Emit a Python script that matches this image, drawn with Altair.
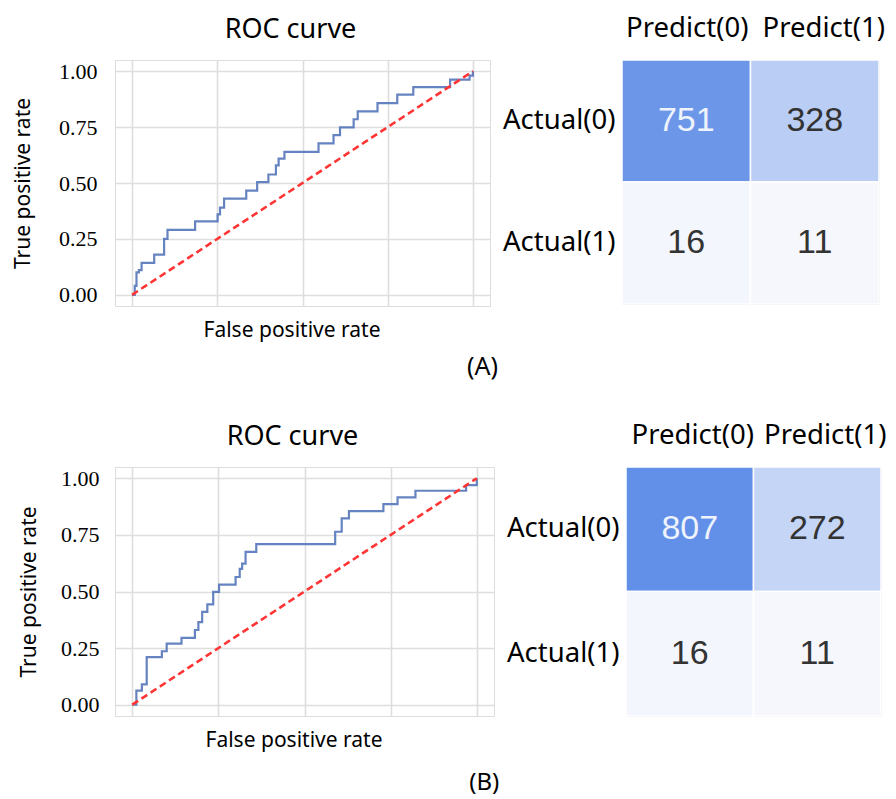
import altair as alt
import pandas as pd

# ---------------- data ----------------
# ROC curve (A): false positive rate / true positive rate at each step
roc_a_fpr = [0.0, 0.008, 0.013, 0.020, 0.028, 0.065, 0.094, 0.104, 0.185, 0.251,
             0.258, 0.270, 0.335, 0.367, 0.400, 0.422, 0.430, 0.447, 0.547, 0.591,
             0.610, 0.650, 0.662, 0.720, 0.778, 0.825, 0.933, 0.990, 1.0]
roc_a_tpr = [0.0, 0.040, 0.100, 0.110, 0.143, 0.180, 0.250, 0.290, 0.328, 0.360,
             0.390, 0.430, 0.466, 0.504, 0.538, 0.579, 0.609, 0.639, 0.677, 0.714,
             0.749, 0.785, 0.820, 0.857, 0.895, 0.929, 0.962, 0.980, 1.0]

# ROC curve (B)
roc_b_fpr = [0.0, 0.012, 0.028, 0.042, 0.086, 0.100, 0.143, 0.182, 0.192, 0.203,
             0.218, 0.235, 0.252, 0.300, 0.312, 0.319, 0.329, 0.360, 0.589, 0.608,
             0.629, 0.729, 0.770, 0.822, 0.969, 1.0]
roc_b_tpr = [0.0, 0.062, 0.090, 0.210, 0.236, 0.270, 0.295, 0.330, 0.365, 0.410,
             0.443, 0.498, 0.530, 0.564, 0.600, 0.623, 0.675, 0.709, 0.764, 0.823,
             0.855, 0.886, 0.916, 0.945, 0.970, 1.0]

# chance diagonal
diag_fpr = [0.0, 1.0]
diag_tpr = [0.0, 1.0]

axis_ticks = [0.0, 0.25, 0.5, 0.75, 1.0]

# confusion matrices
actual_labels = ["Actual(0)", "Actual(0)", "Actual(1)", "Actual(1)"]
predict_labels = ["Predict(0)", "Predict(1)", "Predict(0)", "Predict(1)"]
cm_a_values = [751, 328, 16, 11]
cm_b_values = [807, 272, 16, 11]

SANS = "Noto Sans"
GRID = "#dedede"


def roc_chart(fpr, tpr, w, h, title_pad, label_pad):
    df = pd.DataFrame({"fpr": fpr, "tpr": tpr})
    dg = pd.DataFrame({"fpr": diag_fpr, "tpr": diag_tpr})
    xs = alt.Scale(domain=[-0.05, 1.05], nice=False, zero=False)
    ys = alt.Scale(domain=[-0.05, 1.05], nice=False, zero=False)
    x_axis = alt.Axis(values=axis_ticks, labels=False, ticks=False, tickSize=0,
                      domain=False, grid=True, gridColor=GRID, gridWidth=1.6,
                      title="False positive rate", titleFont=SANS, titleFontSize=21,
                      titleFontWeight="normal", titleColor="black", titlePadding=13,
                      titleX=w / 2 - 11)
    y_axis = alt.Axis(values=axis_ticks, format=".2f", ticks=False, tickSize=0,
                      domain=False, grid=True, gridColor=GRID, gridWidth=1.6,
                      labelFont="Liberation Serif", labelFontSize=22, labelColor="black",
                      labelPadding=label_pad,
                      title="True positive rate", titleFont=SANS, titleFontSize=21,
                      titleFontWeight="normal", titleColor="black", titlePadding=title_pad)
    line = alt.Chart(df).mark_line(interpolate="step-after", color="#5576BA",
                                   strokeWidth=2.2, opacity=0.9).encode(
        x=alt.X("fpr:Q", scale=xs, axis=x_axis),
        y=alt.Y("tpr:Q", scale=ys, axis=y_axis),
    )
    diag = alt.Chart(dg).mark_line(color="#FF3535", strokeWidth=2.6,
                                   strokeDash=[7, 4]).encode(
        x=alt.X("fpr:Q", scale=xs),
        y=alt.Y("tpr:Q", scale=ys),
    )
    return alt.layer(line, diag).properties(
        width=w, height=h,
        title=alt.TitleParams("ROC curve", font=SANS, fontSize=27, fontWeight="normal",
                              color="black", anchor="middle", dx=-12, offset=16),
    )


def cm_chart(values, w, h, off0, off1):
    df = pd.DataFrame({"actual": actual_labels, "predict": predict_labels, "value": values})
    cs = alt.Scale(domain=[min(values), max(values)], range=["#F5F7FD", "#6290E8"],
                   interpolate="rgb")
    base = alt.Chart(df).encode(
        x=alt.X("predict:N", title=None,
                scale=alt.Scale(paddingInner=0, paddingOuter=0),
                axis=alt.Axis(orient="top", labelAngle=0, ticks=False, tickSize=0,
                              domain=False, labelFont=SANS, labelFontSize=27.5,
                              labelColor="black", labelPadding=18,
                              labelOffset={"condition": {"test": "datum.value == 'Predict(1)'",
                                                         "value": off1},
                                           "value": off0})),
        y=alt.Y("actual:N", title=None,
                scale=alt.Scale(paddingInner=0, paddingOuter=0),
                axis=alt.Axis(labelAngle=0, ticks=False, tickSize=0, domain=False,
                              labelFont=SANS, labelFontSize=27.5, labelColor="black",
                              labelPadding=7)),
    )
    rect = base.mark_rect(stroke="white", strokeWidth=1.5).encode(
        color=alt.Color("value:Q", scale=cs, legend=None)
    )
    text = base.mark_text(font="Liberation Sans", fontSize=34).encode(
        text=alt.Text("value:Q"),
        color=alt.condition(alt.datum.value > 500, alt.value("#EEF3FC"),
                            alt.value("#333333")),
    )
    return alt.layer(rect, text).properties(width=w, height=h)


row_a = alt.hconcat(
    roc_chart(roc_a_fpr, roc_a_tpr, 375, 246, 25, 18),
    cm_chart(cm_a_values, 257, 244, 1, 9),
    spacing=11,
).properties(title=alt.TitleParams("(A)", orient="bottom", anchor="middle", dx=34,
                                   font=SANS, fontSize=25, fontWeight="normal",
                                   color="black", offset=14))

row_b = alt.hconcat(
    roc_chart(roc_b_fpr, roc_b_tpr, 379, 249, 21, 16),
    cm_chart(cm_b_values, 255, 249, 3, 8),
    spacing=11,
).properties(title=alt.TitleParams("(B)", orient="bottom", anchor="middle", dx=32,
                                   font=SANS, fontSize=24, fontWeight="normal",
                                   color="black", offset=20))

chart = alt.vconcat(row_a, row_b, spacing=40).properties(
    padding={"left": 4, "top": 5, "right": 0, "bottom": 0}
).configure_view(stroke="#e2e2e2", strokeWidth=1.5).configure(background="white")

chart.save("out.html", embed_options={"renderer": "svg", "actions": False})
